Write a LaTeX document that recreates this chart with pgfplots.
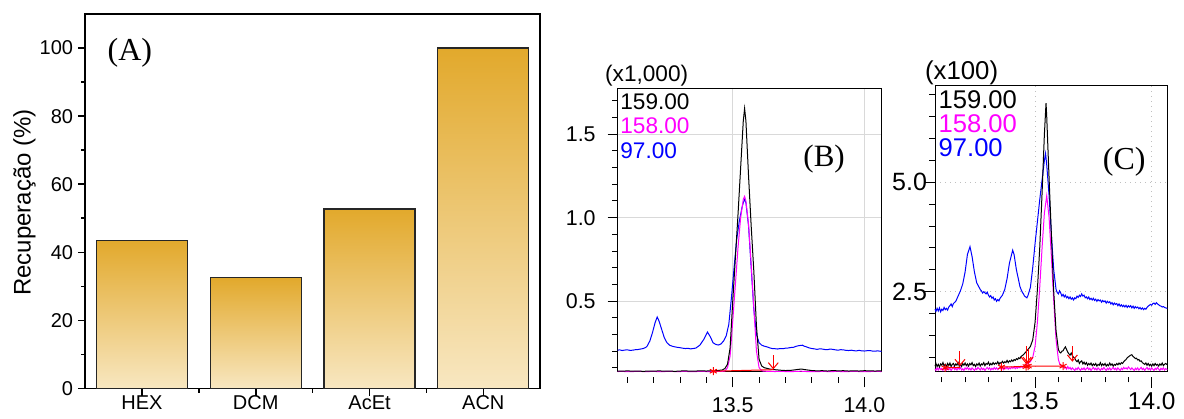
\documentclass[border=0pt]{standalone}
\usepackage{fontspec}
\setmainfont{Liberation Sans}
\newfontfamily\tnr{Liberation Serif}
\usepackage{pgfplots}
\pgfplotsset{compat=1.18}
\usetikzlibrary{arrows.meta}
\definecolor{barTop}{HTML}{E2A92C}
\definecolor{barBot}{HTML}{F8E7C1}
\definecolor{mag}{HTML}{FF00FF}
\definecolor{blu}{HTML}{0000FF}
\tikzset{redarr/.style={red, line width=0.5pt, -{Straight Barb[length=3pt,width=5pt]}}}
\begin{document}
\begin{tikzpicture}
\useasboundingbox (0,0) rectangle (592pt,209pt);
% ---------------- Panel A ----------------
\begin{axis}[
 at={(42.55pt,14.75pt)}, anchor=south west,
 scale only axis, width=227.55pt, height=187.25pt,
 xmin=-0.5, xmax=3.5, ymin=0, ymax=110,
 xtick={0,1,2,3}, xticklabels={HEX,DCM,AcEt,ACN},
 minor xtick={0.5,1.5,2.5},
 ytick={0,20,40,60,80,100}, minor ytick={10,30,50,70,90},
 tick pos=left, tick align=outside,
 major tick length=3.5pt, minor tick length=2pt,
 axis line style={line width=0.9pt},
 every tick/.style={black, line width=0.8pt},
 tick label style={font=\fontsize{10}{12}\selectfont},
 yticklabel style={xshift=1pt},
 xticklabel style={yshift=0.8pt, inner sep=0.5pt},
 /pgf/number format/assume math mode=true,
 clip=false,
 bstyle/.style={ybar, bar width=0.8, draw=black!85, line width=0.6pt, top color=barTop, bottom color=barBot},
]
\addplot[bstyle] coordinates {(0,43.5)};
\addplot[bstyle] coordinates {(1,32.5)};
\addplot[bstyle] coordinates {(2,52.7)};
\addplot[bstyle] coordinates {(3,100)};
\node[font=\tnr\fontsize{16}{18}\selectfont] at (axis cs:-0.106,98.5) {(A)};
\node[rotate=90, font=\fontsize{12}{14}\selectfont] at (rel axis cs:-0.133,0.497) {Recuperação (\%)};
\end{axis}
% ---------------- Panel B ----------------
\begin{axis}[
 at={(308.85pt,23.15pt)}, anchor=south west,
 scale only axis, width=131.9pt, height=141.7pt,
 xmin=13.063, xmax=14.065, ymin=0.076, ymax=1.776,
 xtick={13.5,14.0}, xticklabels={13.5,14.0},
 minor xtick={13.1,13.2,13.3,13.4,13.6,13.7,13.8,13.9},
 ytick={0.5,1.0,1.5}, yticklabels={0.5,1.0,1.5},
 minor ytick={0.1,0.2,0.3,0.4,0.6,0.7,0.8,0.9,1.1,1.2,1.3,1.4,1.6,1.7},
 tick pos=left, tick align=outside,
 major tick length=5pt, minor tick length=2.8pt,
 axis line style={line width=0.5pt},
 every tick/.style={black, line width=0.5pt},
 xtick style={yshift=-2.8pt},
 grid=major, major grid style={black!15, line width=0.5pt},
 tick label style={font=\fontsize{10.7}{12}\selectfont},
 yticklabel style={xshift=-2.5pt},
 xticklabel style={yshift=-4.5pt},
 /pgf/number format/assume math mode=true,
 clip=false,
]
\addplot[blu, line width=0.5pt] coordinates {
(13.063,0.205) (13.07,0.207) (13.08,0.203) (13.09,0.206) (13.10,0.207) (13.11,0.204) (13.12,0.205) (13.13,0.208) (13.14,0.209)
(13.15,0.212) (13.16,0.215) (13.17,0.222) (13.175,0.23) (13.185,0.26) (13.195,0.31) (13.205,0.37) (13.213,0.404)
(13.22,0.38) (13.23,0.33) (13.24,0.28) (13.25,0.25) (13.26,0.235) (13.27,0.229) (13.28,0.225) (13.29,0.222) (13.30,0.220)
(13.31,0.217) (13.32,0.215) (13.33,0.216) (13.34,0.213) (13.35,0.215) (13.36,0.218) (13.375,0.235) (13.39,0.27) (13.404,0.314)
(13.415,0.285) (13.425,0.25) (13.435,0.240) (13.445,0.236) (13.455,0.242) (13.465,0.26) (13.475,0.29) (13.485,0.36)
(13.495,0.52) (13.505,0.70) (13.515,0.87) (13.525,0.98) (13.535,1.06) (13.54,1.09) (13.545,1.11) (13.55,1.09) (13.56,0.95)
(13.57,0.70) (13.58,0.45) (13.59,0.30) (13.60,0.25) (13.61,0.235) (13.62,0.229) (13.63,0.225) (13.64,0.219) (13.65,0.215)
(13.66,0.214) (13.67,0.212) (13.68,0.215) (13.69,0.214) (13.70,0.217) (13.71,0.218) (13.72,0.221) (13.73,0.222) (13.74,0.228)
(13.75,0.232) (13.765,0.235) (13.77,0.230) (13.78,0.225) (13.79,0.219) (13.80,0.215) (13.81,0.213) (13.82,0.210) (13.83,0.213)
(13.84,0.212) (13.85,0.209) (13.86,0.208) (13.87,0.212) (13.88,0.210) (13.89,0.207) (13.90,0.205) (13.91,0.208) (13.92,0.207)
(13.93,0.204) (13.94,0.203) (13.95,0.205) (13.96,0.202) (13.97,0.201) (13.98,0.204) (13.99,0.201) (14.00,0.200) (14.01,0.202)
(14.02,0.203) (14.03,0.200) (14.04,0.199) (14.05,0.201) (14.065,0.198)};
\addplot[mag, line width=0.5pt] coordinates {
(13.063,0.077) (13.08,0.078) (13.10,0.076) (13.12,0.077) (13.14,0.078) (13.16,0.077) (13.18,0.077) (13.20,0.078) (13.22,0.076)
(13.24,0.077) (13.26,0.078) (13.28,0.077) (13.30,0.077) (13.32,0.078) (13.34,0.076) (13.36,0.077) (13.38,0.078) (13.40,0.077)
(13.42,0.077) (13.44,0.078) (13.46,0.078) (13.47,0.080) (13.48,0.10) (13.49,0.17) (13.50,0.38) (13.51,0.60) (13.52,0.82)
(13.53,1.00) (13.54,1.11) (13.545,1.128) (13.55,1.10) (13.56,0.96) (13.57,0.72) (13.58,0.46) (13.59,0.20) (13.60,0.10)
(13.61,0.082) (13.62,0.079) (13.64,0.078) (13.66,0.077) (13.68,0.078) (13.70,0.077) (13.72,0.076) (13.74,0.078) (13.76,0.079)
(13.78,0.077) (13.80,0.077) (13.82,0.076) (13.84,0.078) (13.86,0.077) (13.88,0.077) (13.90,0.078) (13.92,0.076) (13.94,0.077)
(13.96,0.078) (13.98,0.077) (14.00,0.076) (14.02,0.077) (14.04,0.078) (14.065,0.077)};
\addplot[black, line width=0.5pt] coordinates {
(13.063,0.080) (13.08,0.079) (13.10,0.081) (13.12,0.079) (13.14,0.080) (13.16,0.078) (13.18,0.080) (13.20,0.079) (13.22,0.081)
(13.24,0.079) (13.26,0.080) (13.28,0.078) (13.30,0.080) (13.32,0.081) (13.34,0.079) (13.36,0.080) (13.38,0.081) (13.40,0.080)
(13.42,0.082) (13.44,0.083) (13.46,0.086) (13.47,0.095) (13.48,0.12) (13.49,0.22) (13.50,0.50) (13.51,0.76) (13.52,1.02)
(13.53,1.30) (13.54,1.58) (13.545,1.655) (13.55,1.58) (13.56,1.25) (13.57,0.95) (13.58,0.68) (13.59,0.35) (13.60,0.15)
(13.61,0.11) (13.62,0.10) (13.64,0.092) (13.66,0.088) (13.68,0.085) (13.70,0.083) (13.72,0.084) (13.74,0.088) (13.76,0.092)
(13.78,0.087) (13.80,0.083) (13.82,0.081) (13.84,0.082) (13.86,0.080) (13.88,0.083) (13.90,0.081) (13.92,0.082) (13.94,0.080)
(13.96,0.081) (13.98,0.080) (14.00,0.082) (14.02,0.081) (14.04,0.080) (14.065,0.081)};
\addplot[red, line width=0.5pt, mark=asterisk, mark size=2pt, mark indices={1}] coordinates {(13.426,0.079) (13.654,0.088)};
\addplot[redarr] coordinates {(13.654,0.175) (13.654,0.09)};
\node[font=\fontsize{11.3}{13}\selectfont, inner sep=0pt] at (axis cs:13.173,1.853) {(x1,000)};
\node[font=\fontsize{11.3}{13}\selectfont, inner sep=0pt, anchor=west, text=black] at (axis cs:13.0717,1.693) {159.00};
\node[font=\fontsize{11.3}{13}\selectfont, inner sep=0pt, anchor=west, text=mag] at (axis cs:13.0717,1.553) {158.00};
\node[font=\fontsize{11.3}{13}\selectfont, inner sep=0pt, anchor=west, text=blu] at (axis cs:13.0717,1.404) {97.00};
\node[font=\tnr\fontsize{15.5}{17}\selectfont] at (axis cs:13.847,1.354) {(B)};
\end{axis}
% ---------------- Panel C ----------------
\begin{axis}[
 at={(467.5pt,23.15pt)}, anchor=south west,
 scale only axis, width=116.15pt, height=142.85pt,
 xmin=13.071, xmax=14.067, ymin=0.672, ymax=7.20,
 xtick={13.5,14.0}, xticklabels={13.5,14.0},
 minor xtick={13.1,13.2,13.3,13.4,13.6,13.7,13.8,13.9},
 ytick={2.5,5.0}, yticklabels={2.5,5.0},
 minor ytick={1.0,1.5,2.0,3.0,3.5,4.0,4.5,5.5,6.0,6.5,7.0},
 tick pos=left, tick align=outside,
 major tick length=5.5pt, minor tick length=2.8pt,
 axis line style={line width=0.5pt},
 every tick/.style={black, line width=0.5pt},
 xtick style={yshift=-2.5pt},
 grid=major, major grid style={black!25, line width=0.5pt, dotted},
 tick label style={font=\fontsize{12.5}{14}\selectfont},
 yticklabel style={xshift=5pt},
 xticklabel style={yshift=-4pt, inner sep=0.5pt, font=\fontsize{12.2}{14}\selectfont},
 /pgf/number format/assume math mode=true,
 clip=false,
]
\addplot[blu, line width=0.5pt] coordinates {
(13.071,2.10) (13.075,2.05) (13.08,2.12) (13.085,2.06) (13.09,2.13) (13.095,2.04) (13.10,2.10) (13.105,2.07) (13.11,2.14)
(13.115,2.09) (13.12,2.12) (13.125,2.08) (13.13,2.15) (13.135,2.18) (13.14,2.22) (13.145,2.16) (13.15,2.23) (13.16,2.28)
(13.17,2.40) (13.18,2.52) (13.19,2.68) (13.20,2.95) (13.21,3.35) (13.221,3.53) (13.23,3.30) (13.24,2.95) (13.25,2.70)
(13.26,2.60) (13.265,2.55) (13.27,2.52) (13.275,2.47) (13.28,2.50) (13.29,2.45) (13.295,2.49) (13.30,2.42) (13.305,2.38)
(13.31,2.41) (13.315,2.35) (13.32,2.38) (13.325,2.31) (13.33,2.34) (13.335,2.28) (13.34,2.32) (13.345,2.29) (13.35,2.35)
(13.36,2.42) (13.37,2.55) (13.38,2.80) (13.39,3.15) (13.404,3.45) (13.41,3.35) (13.42,3.00) (13.43,2.75) (13.435,2.62)
(13.44,2.55) (13.445,2.49) (13.45,2.45) (13.455,2.40) (13.46,2.38) (13.465,2.36) (13.47,2.42) (13.48,2.60) (13.49,3.05)
(13.50,3.60) (13.51,4.10) (13.52,4.60) (13.53,5.05) (13.54,5.50) (13.545,5.66) (13.55,5.40) (13.56,4.70) (13.57,3.80)
(13.58,3.00) (13.59,2.55) (13.595,2.48) (13.60,2.45) (13.605,2.52) (13.61,2.47) (13.615,2.40) (13.62,2.44) (13.625,2.38)
(13.63,2.42) (13.635,2.36) (13.64,2.39) (13.645,2.34) (13.65,2.38) (13.655,2.33) (13.66,2.36) (13.665,2.31) (13.67,2.36)
(13.675,2.34) (13.68,2.40) (13.685,2.37) (13.69,2.42) (13.695,2.39) (13.70,2.45) (13.705,2.40) (13.71,2.42) (13.715,2.36)
(13.72,2.38) (13.725,2.34) (13.73,2.38) (13.735,2.32) (13.74,2.35) (13.745,2.31) (13.75,2.35) (13.755,2.30) (13.76,2.33)
(13.765,2.28) (13.77,2.32) (13.775,2.29) (13.78,2.31) (13.785,2.26) (13.79,2.30) (13.795,2.27) (13.80,2.29) (13.805,2.24)
(13.81,2.28) (13.815,2.25) (13.82,2.27) (13.825,2.22) (13.83,2.25) (13.835,2.20) (13.84,2.24) (13.845,2.21) (13.85,2.23)
(13.855,2.18) (13.86,2.22) (13.865,2.17) (13.87,2.20) (13.875,2.16) (13.88,2.19) (13.885,2.15) (13.89,2.19) (13.895,2.14)
(13.90,2.18) (13.905,2.15) (13.91,2.18) (13.915,2.13) (13.92,2.17) (13.925,2.12) (13.93,2.16) (13.935,2.13) (13.94,2.15)
(13.945,2.11) (13.95,2.14) (13.955,2.10) (13.96,2.13) (13.965,2.09) (13.97,2.12) (13.975,2.10) (13.98,2.14) (13.985,2.17)
(13.99,2.19) (13.995,2.21) (14.00,2.19) (14.005,2.23) (14.01,2.24) (14.015,2.21) (14.02,2.25) (14.025,2.22) (14.03,2.20)
(14.035,2.18) (14.04,2.17) (14.045,2.15) (14.05,2.16) (14.055,2.14) (14.06,2.13) (14.067,2.12)};
\addplot[mag, line width=0.5pt] coordinates {
(13.071,0.74) (13.075,0.70) (13.08,0.76) (13.085,0.71) (13.09,0.77) (13.095,0.72) (13.10,0.75) (13.105,0.70) (13.11,0.76)
(13.115,0.73) (13.12,0.71) (13.125,0.77) (13.13,0.72) (13.135,0.75) (13.14,0.70) (13.145,0.74) (13.15,0.78) (13.155,0.72)
(13.16,0.75) (13.165,0.71) (13.17,0.76) (13.175,0.73) (13.18,0.77) (13.185,0.71) (13.19,0.74) (13.195,0.70) (13.20,0.76)
(13.205,0.73) (13.21,0.77) (13.215,0.72) (13.22,0.75) (13.225,0.71) (13.23,0.76) (13.235,0.73) (13.24,0.70) (13.245,0.75)
(13.25,0.72) (13.255,0.77) (13.26,0.74) (13.265,0.71) (13.27,0.76) (13.275,0.72) (13.28,0.75) (13.285,0.70) (13.29,0.74)
(13.295,0.77) (13.30,0.73) (13.305,0.76) (13.31,0.71) (13.315,0.75) (13.32,0.72) (13.325,0.77) (13.33,0.73) (13.335,0.76)
(13.34,0.72) (13.345,0.75) (13.35,0.78) (13.355,0.73) (13.36,0.76) (13.365,0.72) (13.37,0.77) (13.375,0.74) (13.38,0.78)
(13.385,0.73) (13.39,0.76) (13.395,0.74) (13.40,0.78) (13.405,0.75) (13.41,0.79) (13.415,0.74) (13.42,0.77) (13.425,0.75)
(13.43,0.79) (13.435,0.76) (13.44,0.80) (13.445,0.77) (13.45,0.79) (13.455,0.82) (13.46,0.83) (13.47,0.86) (13.48,0.90)
(13.49,1.00) (13.50,1.25) (13.51,1.80) (13.52,2.60) (13.53,3.50) (13.54,4.30) (13.55,4.69) (13.56,4.20) (13.57,3.30)
(13.58,2.30) (13.59,1.40) (13.60,0.95) (13.605,0.86) (13.61,0.82) (13.615,0.78) (13.62,0.80) (13.625,0.75) (13.63,0.78)
(13.635,0.73) (13.64,0.79) (13.645,0.74) (13.65,0.77) (13.655,0.72) (13.66,0.76) (13.665,0.73) (13.67,0.70) (13.675,0.75)
(13.68,0.72) (13.685,0.77) (13.69,0.73) (13.695,0.70) (13.70,0.75) (13.705,0.72) (13.71,0.76) (13.715,0.71) (13.72,0.74)
(13.725,0.77) (13.73,0.72) (13.735,0.75) (13.74,0.70) (13.745,0.74) (13.75,0.77) (13.755,0.72) (13.76,0.75) (13.765,0.71)
(13.77,0.76) (13.775,0.73) (13.78,0.70) (13.785,0.75) (13.79,0.72) (13.795,0.77) (13.80,0.73) (13.805,0.70) (13.81,0.75)
(13.815,0.72) (13.82,0.76) (13.825,0.71) (13.83,0.74) (13.835,0.77) (13.84,0.72) (13.845,0.75) (13.85,0.71) (13.855,0.76)
(13.86,0.73) (13.865,0.70) (13.87,0.75) (13.875,0.72) (13.88,0.77) (13.885,0.74) (13.89,0.76) (13.895,0.73) (13.90,0.78)
(13.905,0.75) (13.91,0.72) (13.915,0.76) (13.92,0.73) (13.925,0.70) (13.93,0.75) (13.935,0.72) (13.94,0.76) (13.945,0.71)
(13.95,0.74) (13.955,0.77) (13.96,0.72) (13.965,0.75) (13.97,0.70) (13.975,0.74) (13.98,0.77) (13.985,0.72) (13.99,0.75)
(13.995,0.71) (14.00,0.76) (14.005,0.73) (14.01,0.70) (14.015,0.75) (14.02,0.72) (14.025,0.77) (14.03,0.73) (14.035,0.70)
(14.04,0.75) (14.045,0.72) (14.05,0.76) (14.055,0.71) (14.06,0.74) (14.067,0.72)};
\addplot[black, line width=0.5pt] coordinates {
(13.071,0.80) (13.075,0.86) (13.08,0.79) (13.085,0.84) (13.09,0.78) (13.095,0.85) (13.10,0.82) (13.105,0.88) (13.11,0.80)
(13.115,0.84) (13.12,0.79) (13.125,0.86) (13.13,0.81) (13.135,0.87) (13.14,0.79) (13.145,0.84) (13.15,0.86) (13.155,0.80)
(13.16,0.85) (13.165,0.82) (13.17,0.88) (13.175,0.80) (13.18,0.84) (13.185,0.79) (13.19,0.86) (13.195,0.82) (13.20,0.87)
(13.205,0.81) (13.21,0.85) (13.215,0.80) (13.22,0.86) (13.225,0.83) (13.23,0.88) (13.235,0.81) (13.24,0.84) (13.245,0.79)
(13.25,0.85) (13.255,0.82) (13.26,0.87) (13.265,0.80) (13.27,0.85) (13.275,0.83) (13.28,0.88) (13.285,0.81) (13.29,0.86)
(13.295,0.84) (13.30,0.89) (13.305,0.82) (13.31,0.86) (13.315,0.83) (13.32,0.88) (13.325,0.84) (13.33,0.87) (13.335,0.85)
(13.34,0.90) (13.345,0.84) (13.35,0.88) (13.355,0.86) (13.36,0.91) (13.365,0.87) (13.37,0.90) (13.375,0.88) (13.38,0.93)
(13.385,0.88) (13.39,0.92) (13.395,0.90) (13.40,0.94) (13.405,0.91) (13.41,0.95) (13.415,0.93) (13.42,0.97) (13.425,0.95)
(13.43,0.99) (13.435,0.97) (13.44,1.02) (13.445,1.04) (13.45,1.06) (13.455,1.09) (13.46,1.12) (13.47,1.18) (13.48,1.25)
(13.49,1.40) (13.50,1.80) (13.51,2.55) (13.52,3.50) (13.53,4.75) (13.54,6.10) (13.547,6.81) (13.55,6.50) (13.56,5.10)
(13.57,3.80) (13.58,2.50) (13.59,1.60) (13.60,1.18) (13.605,1.12) (13.61,1.10) (13.615,1.14) (13.62,1.15) (13.625,1.20)
(13.63,1.24) (13.635,1.18) (13.64,1.12) (13.645,1.08) (13.65,1.05) (13.655,1.10) (13.66,1.04) (13.665,1.00) (13.67,0.98)
(13.675,0.93) (13.68,0.90) (13.685,0.94) (13.69,0.86) (13.695,0.90) (13.70,0.92) (13.705,0.85) (13.71,0.89) (13.715,0.84)
(13.72,0.88) (13.725,0.82) (13.73,0.86) (13.735,0.83) (13.74,0.87) (13.745,0.81) (13.75,0.85) (13.755,0.82) (13.76,0.86)
(13.765,0.80) (13.77,0.84) (13.775,0.82) (13.78,0.88) (13.785,0.81) (13.79,0.85) (13.795,0.82) (13.80,0.86) (13.805,0.80)
(13.81,0.84) (13.815,0.81) (13.82,0.87) (13.825,0.82) (13.83,0.85) (13.835,0.80) (13.84,0.84) (13.845,0.82) (13.85,0.86)
(13.855,0.83) (13.86,0.87) (13.865,0.84) (13.87,0.88) (13.875,0.86) (13.88,0.90) (13.885,0.93) (13.89,0.95) (13.895,0.99)
(13.90,1.01) (13.905,1.03) (13.91,1.05) (13.915,1.06) (13.92,1.02) (13.925,1.00) (13.93,0.97) (13.935,0.98) (13.94,0.94)
(13.945,0.95) (13.95,0.91) (13.955,0.92) (13.96,0.88) (13.965,0.86) (13.97,0.84) (13.975,0.87) (13.98,0.82) (13.985,0.86)
(13.99,0.81) (13.995,0.84) (14.00,0.80) (14.005,0.85) (14.01,0.81) (14.015,0.86) (14.02,0.82) (14.025,0.84) (14.03,0.80)
(14.035,0.85) (14.04,0.82) (14.045,0.87) (14.05,0.81) (14.055,0.84) (14.06,0.86) (14.067,0.83)};
\addplot[red, line width=0.5pt, mark=asterisk, mark size=2pt, mark indices={1}] coordinates {(13.114,0.76) (13.178,0.77)};
\addplot[redarr] coordinates {(13.178,1.15) (13.178,0.80)};
\addplot[red, line width=0.5pt, mark=asterisk, mark size=2pt] coordinates {(13.356,0.78) (13.462,0.79) (13.47,0.80) (13.62,0.80)};
\addplot[redarr] coordinates {(13.462,1.25) (13.462,0.85)};
\addplot[redarr] coordinates {(13.47,1.18) (13.47,0.85)};
\addplot[redarr] coordinates {(13.66,1.25) (13.66,0.90)};
\node[font=\fontsize{12.9}{15}\selectfont, inner sep=0pt] at (axis cs:13.185,7.49) {(x100)};
\node[font=\fontsize{12.8}{15}\selectfont, inner sep=0pt, anchor=west, text=black] at (axis cs:13.085,6.88) {159.00};
\node[font=\fontsize{12.8}{15}\selectfont, inner sep=0pt, anchor=west, text=mag] at (axis cs:13.085,6.35) {158.00};
\node[font=\fontsize{12.8}{15}\selectfont, inner sep=0pt, anchor=west, text=blu] at (axis cs:13.085,5.78) {97.00};
\node[font=\tnr\fontsize{16}{18}\selectfont] at (axis cs:13.882,5.47) {(C)};
\end{axis}
\end{tikzpicture}
\end{document}
